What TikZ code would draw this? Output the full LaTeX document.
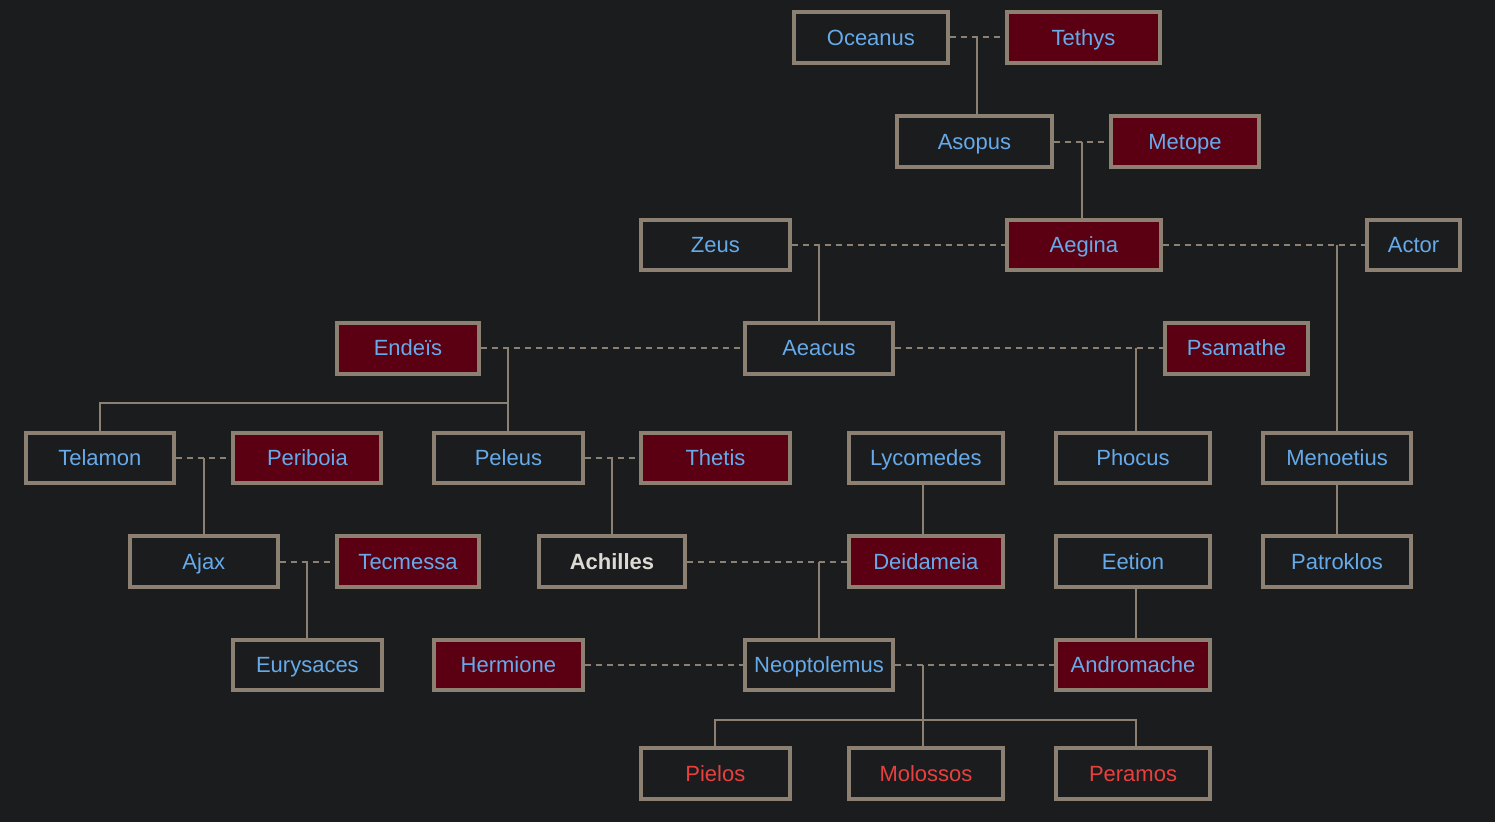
\documentclass[tikz,border=0pt]{standalone}
\usepackage{fontspec}
\setmainfont{Liberation Sans}
\usetikzlibrary{calc}
\definecolor{pagebg}{HTML}{1B1C1E}
\definecolor{frame}{HTML}{8B8072}
\definecolor{femfill}{HTML}{5A0012}
\definecolor{nameblue}{HTML}{66AAEA}
\definecolor{namered}{HTML}{E8403E}
\definecolor{herotext}{HTML}{DDD9D3}
\newcommand{\namefont}{\fontsize{22pt}{26pt}\selectfont}
\begin{document}
\begin{tikzpicture}[x=1pt,y=-1pt,
  person/.style={draw=frame, line width=4pt, fill=pagebg, text=nameblue,
    minimum width=148pt, minimum height=50.5pt, inner sep=0pt,
    text height=19.9pt, text depth=4.7pt, font=\namefont},
  wide/.style={minimum width=153.7pt},
  narrow/.style={minimum width=142pt},
  female/.style={fill=femfill},
  issue/.style={text=namered},
  hero/.style={text=herotext, font=\namefont\bfseries},
  link/.style={draw=frame, line width=2pt},
  spouse/.style={link, dash pattern=on 6pt off 5pt}]
\fill[pagebg] (0,0) rectangle (1495,822);
\useasboundingbox (0,0) rectangle (1495,822);

% generation 1
\node[person, wide] (oceanus) at (870.9,37.4) {Oceanus};
\node[person, wide, female] (tethys) at (1083.5,37.4) {Tethys};
% generation 2
\node[person, wide, minimum width=154.4pt] (asopus) at (974.5,141.5) {Asopus};
\node[person, female, minimum width=147.4pt] (metope) at (1185,141.5) {Metope};
% generation 3
\node[person, minimum width=148.7pt] (zeus) at (715.3,245) {Zeus};
\node[person, wide, female] (aegina) at (1083.9,245) {Aegina};
\node[person, minimum width=92.4pt] (actor) at (1413.5,245) {Actor};
% generation 4
\node[person, narrow, female] (endeis) at (408,348.3) {Endeïs};
\node[person, minimum width=147.4pt] (aeacus) at (819,348.3) {Aeacus};
\node[person, narrow, female, minimum width=142.4pt] (psamathe) at (1236.5,348.3) {Psamathe};
% generation 5
\node[person, minimum width=147.7pt] (telamon) at (99.85,457.9) {Telamon};
\node[person, female] (periboia) at (307.4,457.9) {Periboia};
\node[person, minimum width=148.4pt] (peleus) at (508.4,457.9) {Peleus};
\node[person, female, minimum width=148.3pt] (thetis) at (715.5,457.9) {Thetis};
\node[person, wide] (lycomedes) at (925.85,457.9) {Lycomedes};
\node[person, wide, minimum width=153.4pt] (phocus) at (1133,457.9) {Phocus};
\node[person, minimum width=147.4pt] (menoetius) at (1337,457.9) {Menoetius};
% generation 6
\node[person, minimum width=147.7pt] (ajax) at (203.85,561.5) {Ajax};
\node[person, narrow, female, minimum width=141.2pt] (tecmessa) at (408,561.5) {Tecmessa};
\node[person, hero, minimum width=146.7pt] (achilles) at (612,561.5) {Achilles};
\node[person, wide, female] (deidameia) at (925.85,561.5) {Deidameia};
\node[person, wide, minimum width=153.4pt] (eetion) at (1133,561.5) {Eetion};
\node[person, minimum width=147.4pt] (patroklos) at (1337,561.5) {Patroklos};
% generation 7
\node[person, minimum width=148.7pt] (eurysaces) at (307.4,665.2) {Eurysaces};
\node[person, female, minimum width=148.4pt] (hermione) at (508.4,665.2) {Hermione};
\node[person, minimum width=147.4pt] (neoptolemus) at (819,665.2) {Neoptolemus};
\node[person, wide, female] (andromache) at (1133,665.2) {Andromache};
% generation 8
\node[person, issue, minimum width=148.7pt] (pielos) at (715.3,773.4) {Pielos};
\node[person, issue, wide, minimum width=154pt] (molossos) at (926,773.4) {Molossos};
\node[person, issue, wide] (peramos) at (1133,773.4) {Peramos};

% marriages
\draw[spouse] (oceanus.east) -- (tethys.west);
\draw[spouse] (asopus.east) -- (metope.west);
\draw[spouse] (zeus.east) -- (aegina.west);
\draw[spouse] (aegina.east) -- (actor.west);
\draw[spouse] (endeis.east) -- (aeacus.west);
\draw[spouse] (aeacus.east) -- (psamathe.west);
\draw[spouse] (telamon.east) -- (periboia.west);
\draw[spouse] (peleus.east) -- (thetis.west);
\draw[spouse] (ajax.east) -- (tecmessa.west);
\draw[spouse] (achilles.east) -- (deidameia.west);
\draw[spouse] (hermione.east) -- (neoptolemus.west);
\draw[spouse] (neoptolemus.east) -- (andromache.west);

% junction columns that sit off the child's centre
\coordinate (ot) at ($(oceanus.east)!0.5!(tethys.west)$);
\coordinate (am) at ($(asopus.east)!0.5!(metope.west)$);
\coordinate (colP) at (1136,0);
\coordinate (colM) at (922.7,0);
\coordinate (busA) at (0,402.7);
\coordinate (busN) at (0,719.7);

% descent
\draw[link] (ot) -- (ot |- asopus.north);
\draw[link] (am) -- (am |- aegina.north);
\draw[link] (aeacus.north |- zeus.east) -- (aeacus.north);
\draw[link] (menoetius.north |- actor.west) -- (menoetius.north);
\draw[link] (peleus.north |- endeis.east) -- (peleus.north);
\draw[link] (telamon.north) -- (telamon.north |- busA) -- (peleus.north |- busA);
\draw[link] (colP |- psamathe.west) -- (colP |- phocus.north);
\draw[link] (ajax.north |- telamon.east) -- (ajax.north);
\draw[link] (achilles.north |- peleus.east) -- (achilles.north);
\draw[link] (colM |- lycomedes.south) -- (colM |- deidameia.north);
\draw[link] (eurysaces.north |- ajax.east) -- (eurysaces.north);
\draw[link] (neoptolemus.north |- achilles.east) -- (neoptolemus.north);
\draw[link] (colP |- eetion.south) -- (colP |- andromache.north);
\draw[link] (menoetius.south) -- (patroklos.north);
\draw[link] (colM |- neoptolemus.east) -- (colM |- molossos.north);
\draw[link] (pielos.north) -- (pielos.north |- busN) -- (colP |- busN) -- (colP |- peramos.north);
\end{tikzpicture}
\end{document}
